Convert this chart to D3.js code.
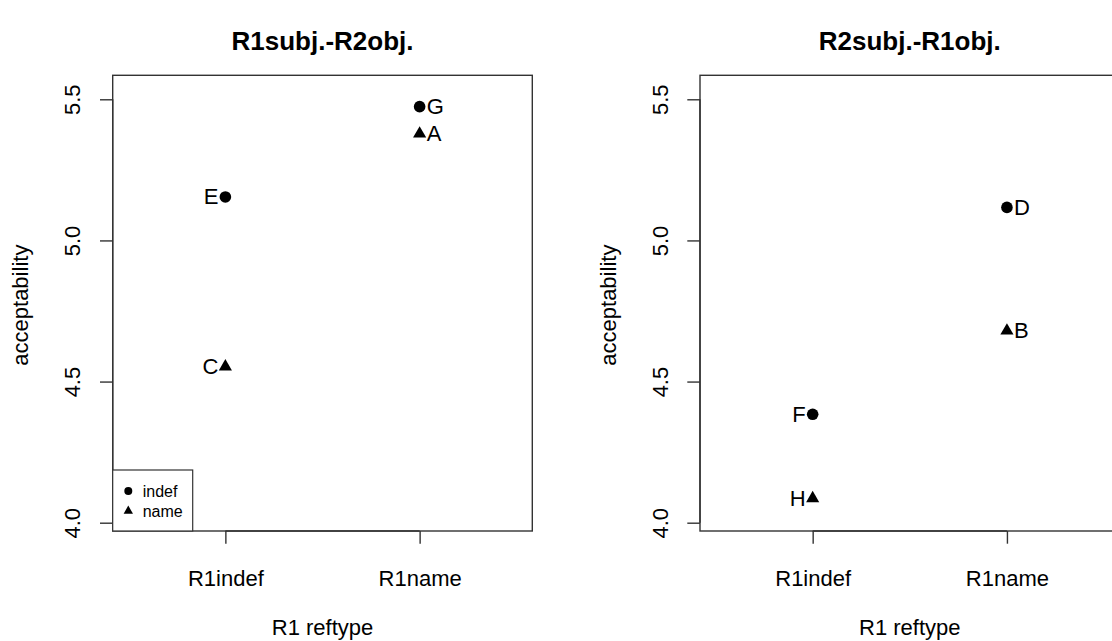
<!DOCTYPE html>
<html>
<head>
<meta charset="utf-8">
<script src="https://cdn.jsdelivr.net/npm/d3@7"></script>
<style>
  html, body { margin: 0; padding: 0; background: #fff; }
  svg { display: block; }
  text { font-family: "Liberation Sans", Arial, Helvetica, sans-serif; fill: #000; }
</style>
</head>
<body>
<svg id="chart" width="1112" height="641"></svg>
<script>
// Categories on the x axis
const reftypes = ["R1indef", "R1name"];
// Series (R2 reftype), drawn with filled circle / filled triangle
const seriesNames = ["indef", "name"];

// Panel 1: R1subj.-R2obj.
const p1Indef = [5.154, 5.474];
const p1Name = [4.553, 5.378];
const p1IndefLabels = ["E", "G"];
const p1NameLabels = ["C", "A"];

// Panel 2: R2subj.-R1obj.
const p2Indef = [4.384, 5.117];
const p2Name = [4.086, 4.680];
const p2IndefLabels = ["F", "D"];
const p2NameLabels = ["H", "B"];

const panelTitles = ["R1subj.-R2obj.", "R2subj.-R1obj."];
const yTicks = [4.0, 4.5, 5.0, 5.5];
const yLim = [3.9706, 5.585];
const xLim = [0.42, 2.58];

const svg = d3.select("#chart");
const axisColor = "#333";
const fs = "22px";

const panels = [
  { left: 112.7, title: panelTitles[0], indef: p1Indef, name: p1Name,
    indefLab: p1IndefLabels, nameLab: p1NameLabels, legend: true },
  { left: 700, title: panelTitles[1], indef: p2Indef, name: p2Name,
    indefLab: p2IndefLabels, nameLab: p2NameLabels, legend: false }
];

const boxW = 419.6, plotTop = 75.3, plotBottom = 531;

const tri = d3.symbol().type(d3.symbolTriangle);

panels.forEach(p => {
  const g = svg.append("g");
  const x = d3.scaleLinear().domain(xLim).range([p.left, p.left + boxW]);
  const y = d3.scaleLinear().domain(yLim).range([plotBottom, plotTop]);

  // plot frame
  g.append("rect")
    .attr("x", p.left).attr("y", plotTop)
    .attr("width", boxW).attr("height", plotBottom - plotTop)
    .attr("fill", "none").attr("stroke", axisColor).attr("stroke-width", 1.4);

  // y axis
  const yAxis = d3.axisLeft(y).tickValues(yTicks).tickFormat(d3.format(".1f"))
    .tickSizeOuter(0).tickSizeInner(12.7).tickPadding(0);
  const ya = g.append("g").attr("transform", `translate(${p.left},0)`).call(yAxis);
  ya.select(".domain").attr("stroke", axisColor).attr("stroke-width", 1.4)
    .attr("d", `M0,${y(yTicks[0])}V${y(yTicks[yTicks.length - 1])}`);
  ya.selectAll(".tick line").attr("stroke", axisColor).attr("stroke-width", 1.4);
  ya.selectAll(".tick text")
    .attr("x", null).attr("dy", null)
    .attr("transform", `translate(${-40},0) rotate(-90)`)
    .attr("text-anchor", "middle")
    .attr("dominant-baseline", "central")
    .style("font-size", fs)
    .style("font-family", "'Liberation Sans', Arial, sans-serif")
    .attr("fill", "#000");

  // x axis
  const xAxis = d3.axisBottom(x).tickValues([1, 2]).tickFormat((d, i) => reftypes[i])
    .tickSizeOuter(0).tickSizeInner(12.7).tickPadding(0);
  const xa = g.append("g").attr("transform", `translate(0,${plotBottom})`).call(xAxis);
  xa.select(".domain").attr("stroke", axisColor).attr("stroke-width", 1.4)
    .attr("d", `M${x(1)},0H${x(2)}`);
  xa.selectAll(".tick line").attr("stroke", axisColor).attr("stroke-width", 1.4);
  xa.selectAll(".tick text")
    .attr("y", 55).attr("dy", null)
    .style("font-size", fs)
    .style("font-family", "'Liberation Sans', Arial, sans-serif")
    .attr("fill", "#000");

  // titles
  const cx = p.left + boxW / 2;
  g.append("text").attr("x", cx).attr("y", 50).attr("text-anchor", "middle")
    .style("font-size", "26px").style("font-weight", "bold").text(p.title);
  g.append("text").attr("x", cx).attr("y", 635).attr("text-anchor", "middle")
    .style("font-size", fs).text("R1 reftype");
  g.append("text")
    .attr("transform", `translate(${p.left - 92},${(plotTop + plotBottom) / 2 + 2}) rotate(-90)`)
    .attr("text-anchor", "middle").attr("dominant-baseline", "central")
    .style("font-size", fs).text("acceptability");

  // points + labels
  const labelPoint = (xv, yv, lab) => {
    const onLeft = xv === 1;
    g.append("text")
      .attr("x", x(xv) + (onLeft ? -7 : 7)).attr("y", y(yv))
      .attr("text-anchor", onLeft ? "end" : "start")
      .attr("dominant-baseline", "central")
      .style("font-size", fs).text(lab);
  };
  p.indef.forEach((v, i) => {
    g.append("circle").attr("cx", x(i + 1)).attr("cy", y(v)).attr("r", 5.8).attr("fill", "#000");
    labelPoint(i + 1, v, p.indefLab[i]);
  });
  p.name.forEach((v, i) => {
    g.append("path").attr("d", tri.size(75)())
      .attr("transform", `translate(${x(i + 1)},${y(v)})`).attr("fill", "#000");
    labelPoint(i + 1, v, p.nameLab[i]);
  });

  // legend
  if (p.legend) {
    const lg = g.append("g");
    lg.append("rect").attr("x", p.left).attr("y", 470).attr("width", 80).attr("height", plotBottom - 470)
      .attr("fill", "#fff").attr("stroke", axisColor).attr("stroke-width", 1.2);
    seriesNames.forEach((s, i) => {
      const ry = 491 + i * 20;
      if (i === 0) {
        lg.append("circle").attr("cx", p.left + 15.6).attr("cy", ry).attr("r", 4).attr("fill", "#000");
      } else {
        lg.append("path").attr("d", d3.symbol().type(d3.symbolTriangle).size(38)())
          .attr("transform", `translate(${p.left + 15.6},${ry})`).attr("fill", "#000");
      }
      lg.append("text").attr("x", p.left + 30).attr("y", ry)
        .attr("dominant-baseline", "central").style("font-size", "16px").text(s);
    });
  }
});
</script>
</body>
</html>
